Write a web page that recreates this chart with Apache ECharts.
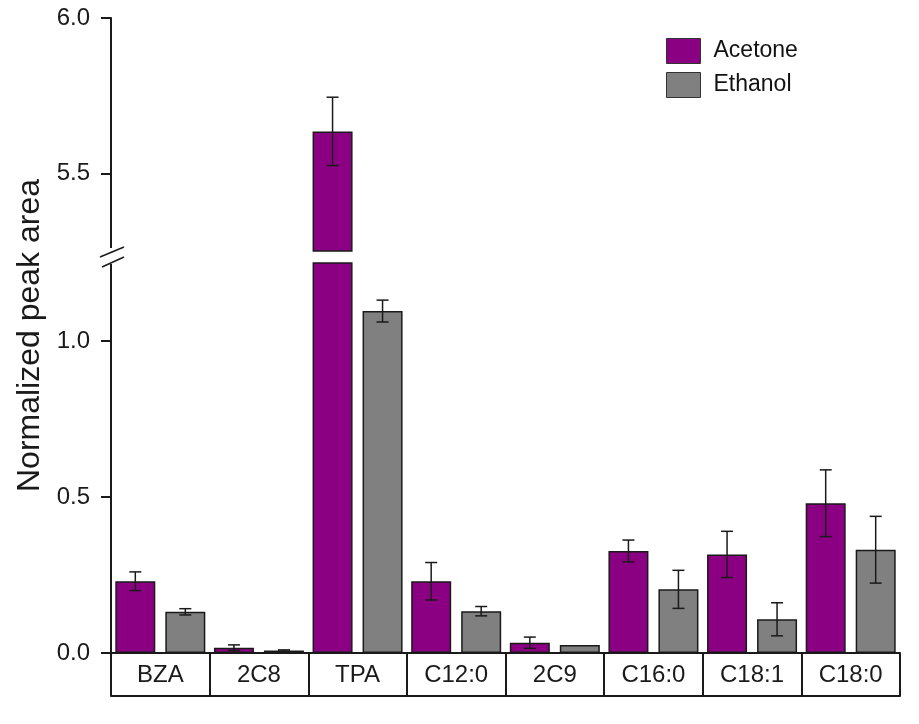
<!DOCTYPE html>
<html>
<head>
<meta charset="utf-8">
<script src="https://cdn.jsdelivr.net/npm/echarts@6/dist/echarts.min.js"></script>
<style>html,body{margin:0;padding:0;background:#fff}#c{width:919px;height:724px}</style>
</head>
<body>
<div id="c"></div>
<script>
const categories = ['BZA', '2C8', 'TPA', 'C12:0', '2C9', 'C16:0', 'C18:1', 'C18:0'];
const acetone = [0.23, 0.017, 5.635, 0.23, 0.033, 0.327, 0.316, 0.48];
const acetoneErr = [0.03, 0.009, 0.11, 0.06, 0.018, 0.035, 0.074, 0.107];
const ethanol = [0.132, 0.008, 1.096, 0.134, 0.026, 0.204, 0.108, 0.331];
const ethanolErr = [0.01, 0.002, 0.035, 0.015, 0, 0.061, 0.053, 0.107];
const lowerTicks = [0, 0.5, 1.0];
const upperTicks = [5.5, 6.0];
const lowerRange = [0, 1.25];
const upperRange = [5.25, 6.0];
const seriesNames = ['Acetone', 'Ethanol'];

const FONT = '"Liberation Sans", Arial, sans-serif';
const PURPLE = '#8B0082';
const GRAY = '#808080';
const EDGE = '#1a1a1a';

const chart = echarts.init(document.getElementById('c'), null, {renderer: 'canvas'});

function errItems(lo, hi) {
  const out = [];
  [acetone, ethanol].forEach((arr, s) => {
    const errs = s === 0 ? acetoneErr : ethanolErr;
    arr.forEach((v, i) => {
      if (v >= lo && v <= hi && errs[i] > 0) out.push([i, v, errs[i], s]);
    });
  });
  return out;
}

function renderErr(params, api) {
  const i = api.value(0), v = api.value(1), e = api.value(2), s = api.value(3);
  let off = s === 0 ? -25 : 25;
  try {
    const lay = api.barLayout({count: 2, barWidth: 40, barGap: '25%'});
    if (lay && lay[s]) off = lay[s].offsetCenter;
  } catch (err) {}
  const c = api.coord([i, v]);
  const cx = c[0] + off;
  const yt = api.coord([i, v + e])[1];
  const yb = api.coord([i, v - e])[1];
  const w = 6;
  const st = {stroke: EDGE, lineWidth: 1.5};
  return {
    type: 'group',
    children: [
      {type: 'line', shape: {x1: cx, y1: yt, x2: cx, y2: yb}, style: st},
      {type: 'line', shape: {x1: cx - w, y1: yt, x2: cx + w, y2: yt}, style: st},
      {type: 'line', shape: {x1: cx - w, y1: yb, x2: cx + w, y2: yb}, style: st}
    ]
  };
}

const yLabel = {fontFamily: FONT, fontSize: 24, color: '#1a1a1a', margin: 21};
const axisLine = {show: true, onZero: false, lineStyle: {color: EDGE, width: 2}};

const option = {
  animation: false,
  backgroundColor: '#fff',
  grid: [
    {left: 111, right: 19, top: 18, height: 233},
    {left: 111, right: 19, top: 263, height: 390}
  ],
  legend: {
    orient: 'vertical',
    left: 666, top: 38, padding: 0,
    itemWidth: 34, itemHeight: 25, itemGap: 8,
    icon: 'rect',
    data: seriesNames,
    textStyle: {fontFamily: FONT, fontSize: 23, color: '#111', padding: [0, 0, 0, 8]},
    itemStyle: {borderColor: '#333', borderWidth: 1}
  },
  xAxis: [
    {type: 'category', gridIndex: 0, data: categories, show: false},
    {
      type: 'category', gridIndex: 1, data: categories, position: 'bottom',
      axisLine: {show: true, lineStyle: {color: EDGE, width: 2}},
      axisTick: {show: true, interval: 0, length: 43, lineStyle: {color: EDGE, width: 2}},
      axisLabel: {interval: 0, fontFamily: FONT, fontSize: 24, color: '#1a1a1a', margin: 10},
      splitLine: {show: false}
    },
    {
      type: 'category', gridIndex: 1, data: categories, position: 'bottom', offset: 43,
      axisLine: {show: true, lineStyle: {color: EDGE, width: 2}},
      axisTick: {show: false}, axisLabel: {show: false}, splitLine: {show: false}
    }
  ],
  yAxis: [
    {
      type: 'value', gridIndex: 0, min: upperRange[0], max: upperRange[1],
      axisLine: axisLine,
      axisTick: {show: true, length: 10, customValues: upperTicks, lineStyle: {color: EDGE, width: 2}},
      axisLabel: Object.assign({customValues: upperTicks, formatter: v => v.toFixed(1)}, yLabel),
      splitLine: {show: false}
    },
    {
      type: 'value', gridIndex: 1, min: lowerRange[0], max: lowerRange[1],
      axisLine: axisLine,
      axisTick: {show: true, length: 10, customValues: lowerTicks, lineStyle: {color: EDGE, width: 2}},
      axisLabel: Object.assign({customValues: lowerTicks, formatter: v => v.toFixed(1)}, yLabel),
      splitLine: {show: false}
    }
  ],
  series: [
    {
      name: 'Acetone', type: 'bar', xAxisIndex: 0, yAxisIndex: 0,
      data: acetone.map(v => v >= upperRange[0] ? v : '-'),
      barWidth: 40, barGap: '25%',
      itemStyle: {color: PURPLE, borderColor: EDGE, borderWidth: 1.5}
    },
    {
      name: 'Ethanol', type: 'bar', xAxisIndex: 0, yAxisIndex: 0,
      data: ethanol.map(v => v >= upperRange[0] ? v : '-'),
      barWidth: 40, barGap: '25%',
      itemStyle: {color: GRAY, borderColor: EDGE, borderWidth: 1.5}
    },
    {
      name: 'Acetone', type: 'bar', xAxisIndex: 1, yAxisIndex: 1,
      data: acetone, barWidth: 40, barGap: '25%',
      itemStyle: {color: PURPLE, borderColor: EDGE, borderWidth: 1.5}
    },
    {
      name: 'Ethanol', type: 'bar', xAxisIndex: 1, yAxisIndex: 1,
      data: ethanol, barWidth: 40, barGap: '25%',
      itemStyle: {color: GRAY, borderColor: EDGE, borderWidth: 1.5}
    },
    {
      type: 'custom', xAxisIndex: 0, yAxisIndex: 0, renderItem: renderErr,
      data: errItems(upperRange[0], upperRange[1] + 10), z: 5, silent: true
    },
    {
      type: 'custom', xAxisIndex: 1, yAxisIndex: 1, renderItem: renderErr,
      data: errItems(-1, lowerRange[1]), z: 5, silent: true
    }
  ]
};

chart.setOption(option);

// Axis-break marks and y-axis title
const yU = chart.convertToPixel({yAxisIndex: 0}, upperRange[0]);
const yL = chart.convertToPixel({yAxisIndex: 1}, lowerRange[1]);
const gridRect = chart.getModel().getComponent('grid', 1).coordinateSystem.getRect();
const ax = gridRect.x;
const y0 = chart.convertToPixel({yAxisIndex: 1}, 0);
const yTop = chart.convertToPixel({yAxisIndex: 0}, upperRange[1]);
const brk = {stroke: EDGE, lineWidth: 1.5};
chart.setOption({
  graphic: [
    {type: 'rect', shape: {x: ax - 3, y: yU - 3, width: 6, height: (yL - yU) + 4}, style: {fill: '#fff'}, z: 100},
    {type: 'line', shape: {x1: ax - 11, y1: yU + 6, x2: ax + 13, y2: yU - 4}, style: brk, z: 101},
    {type: 'line', shape: {x1: ax - 9, y1: yL + 4, x2: ax + 13, y2: yL - 6}, style: brk, z: 101},
    {
      type: 'text', x: 30, y: (y0 + yTop) / 2, rotation: Math.PI / 2,
      style: {text: 'Normalized peak area', font: '32px ' + FONT, fill: '#1a1a1a', align: 'center', verticalAlign: 'middle'},
      z: 101
    }
  ]
});
</script>
</body>
</html>
